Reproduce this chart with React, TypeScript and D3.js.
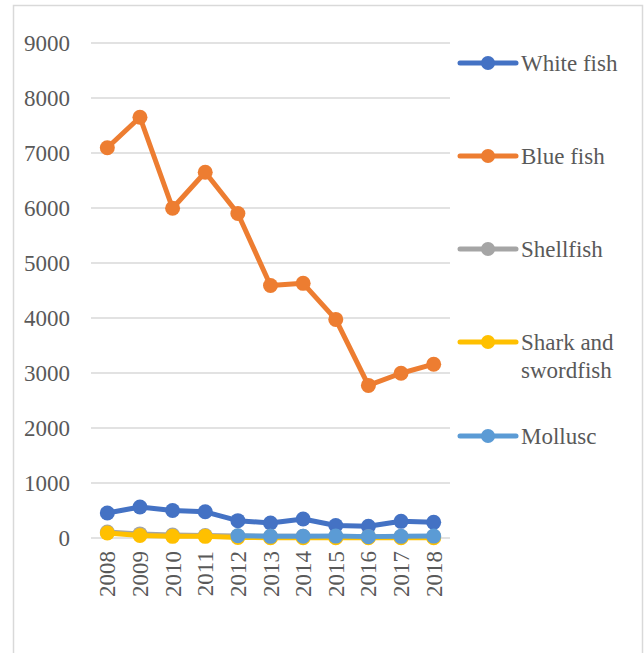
import React from "react";
import * as d3 from "d3";

const years = ["2008","2009","2010","2011","2012","2013","2014","2015","2016","2017","2018"];
const whiteFish = [455, 564, 500, 476, 315, 273, 345, 227, 212, 303, 285];
const blueFish = [7095, 7650, 5995, 6650, 5900, 4590, 4630, 3975, 2775, 2995, 3160];
const shellfish = [110, 75, 55, 45, 35, 30, 30, 25, 25, 25, 25];
const sharkSwordfish = [90, 45, 30, 30, 8, 6, 6, 6, 6, 6, 6];
const mollusc: (number | null)[] = [null, null, null, null, 40, 30, 32, 35, 25, 30, 35];
const yTicks = [0, 1000, 2000, 3000, 4000, 5000, 6000, 7000, 8000, 9000];

const series = [
  { name: ["White fish"], values: whiteFish as (number | null)[], color: "#4472C4" },
  { name: ["Blue fish"], values: blueFish as (number | null)[], color: "#ED7D31" },
  { name: ["Shellfish"], values: shellfish as (number | null)[], color: "#A5A5A5" },
  { name: ["Shark and", "swordfish"], values: sharkSwordfish as (number | null)[], color: "#FFC000" },
  { name: ["Mollusc"], values: mollusc, color: "#5B9BD5" },
];
const legendY = [63, 156, 249, 342, 436];

export default function App() {
  const W = 644, H = 653;
  const x = d3.scaleBand<string>().domain(years).range([91, 450]).padding(0);
  const y = d3.scaleLinear().domain([0, 9000]).range([538, 43]);
  const cx = (d: string) => (x(d) as number) + x.bandwidth() / 2;
  const font = "'Liberation Serif', 'Times New Roman', serif";
  const textColor = "#595959";

  return (
    <svg width={W} height={H} style={{ position: "absolute", left: 0, top: 0, background: "#fff" }}>
      <rect x={13.5} y={5.5} width={629} height={700} fill="#fff" stroke="#D9D9D9" strokeWidth={1.5} />
      {yTicks.map((t) => (
        <g key={t}>
          <line x1={91} x2={450} y1={y(t)} y2={y(t)} stroke="#D9D9D9" strokeWidth={1.5} />
          <text x={70} y={y(t)} dy="0.35em" textAnchor="end" fontFamily={font} fontSize={23} fill={textColor}>{t}</text>
        </g>
      ))}
      {years.map((yr) => (
        <text key={yr} transform={`translate(${cx(yr)},551) rotate(-90)`} textAnchor="end" dy="0.35em"
          fontFamily={font} fontSize={23} fill={textColor}>{yr}</text>
      ))}
      {series.map((s) => {
        const line = d3.line<number | null>()
          .defined((d) => d != null)
          .x((_, i) => cx(years[i]))
          .y((d) => y(d as number));
        return (
          <g key={s.name.join(" ")}>
            <path d={line(s.values) || ""} fill="none" stroke={s.color} strokeWidth={5} strokeLinejoin="round" strokeLinecap="round" />
            {s.values.map((v, i) => v == null ? null : (
              <circle key={i} cx={cx(years[i])} cy={y(v)} r={7.5} fill={s.color} />
            ))}
          </g>
        );
      })}
      {series.map((s, k) => (
        <g key={"lg" + k}>
          <line x1={460} x2={516} y1={legendY[k]} y2={legendY[k]} stroke={s.color} strokeWidth={5} strokeLinecap="round" />
          <circle cx={488} cy={legendY[k]} r={7} fill={s.color} />
          {s.name.map((n, j) => (
            <text key={j} x={521} y={legendY[k] + j * 28} dy="0.35em" fontFamily={font} fontSize={23} fill={textColor}>{n}</text>
          ))}
        </g>
      ))}
    </svg>
  );
}
